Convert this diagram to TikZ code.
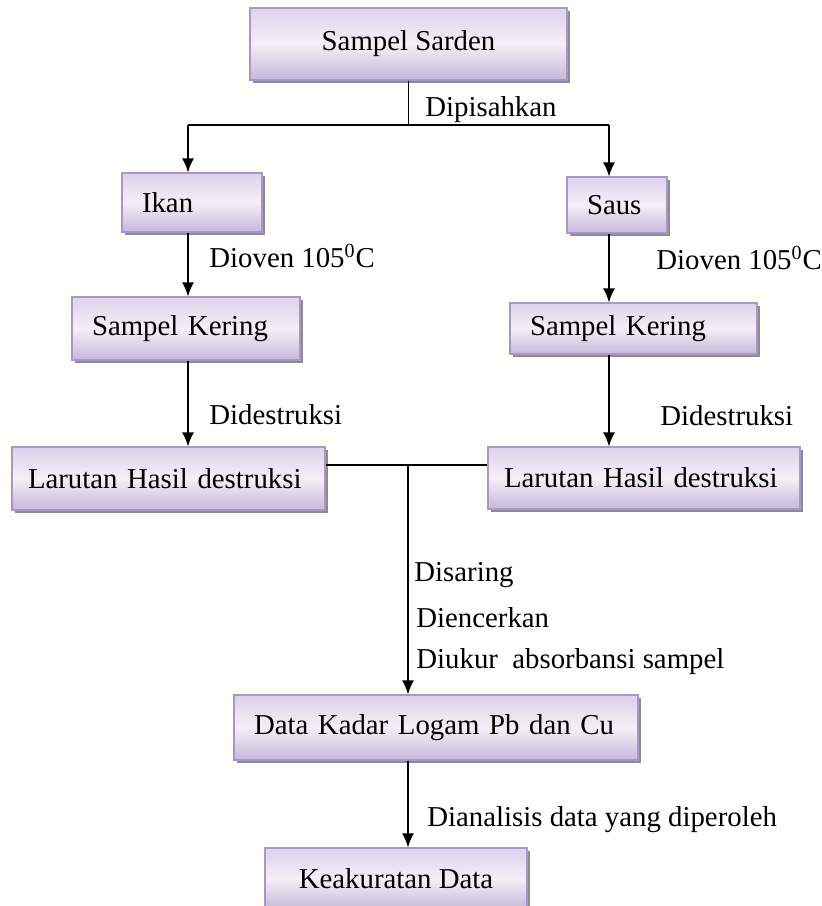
\documentclass[tikz,border=0pt]{standalone}
\usepackage{fontspec}
\setmainfont{Liberation Serif}
\usetikzlibrary{arrows.meta,shadows}

\definecolor{boxtop}{HTML}{DCD2EA}
\definecolor{boxmid}{HTML}{F4EFF7}
\definecolor{boxbot}{HTML}{C6B8DB}
\definecolor{boxline}{HTML}{A898C8}
\definecolor{paper}{HTML}{FEFEFA}

\tikzset{
  box/.style={draw=boxline, line width=0.6pt,
    top color=boxtop, bottom color=boxbot, middle color=boxmid,
    drop shadow={shadow xshift=1.5pt, shadow yshift=-1.5pt, fill=black!45, opacity=1},
    font=\fontsize{14.4}{16}\selectfont, inner xsep=10pt, inner ysep=0pt},
  arr/.style={-{Latex[length=7pt,width=6pt]}, line width=0.8pt},
  lin/.style={line width=0.8pt},
  lbl/.style={anchor=west, inner sep=0pt, font=\fontsize{14.4}{16}\selectfont}
}

\begin{document}
\begin{tikzpicture}[x=0.5pt,y=-0.5pt]
  % Page
  \fill[paper] (0,0) rectangle (822,906);
  \useasboundingbox (0,0) rectangle (822,906);

  % Boxes
  \node[box, minimum width=158.5pt, minimum height=36pt, align=center] (sarden) at (408.5,44) {Sampel Sarden};
  \node[box, text width=50pt, minimum height=29.5pt, align=left] (ikan) at (192,202.5) {Ikan};
  \node[box, text width=30pt, minimum height=28pt, align=left] (saus) at (617,205) {Saus};
  \node[box, text width=94pt, minimum height=31.5pt, align=left] (kering1) at (186,328.5) {Sampel Kering};
  \node[box, text width=103.5pt, minimum height=25.5pt, align=left] (kering2) at (633.5,328.5) {Sampel Kering};
  \node[box, inner xsep=8pt, text width=140.5pt, minimum height=31.5pt, align=left] (larutan1) at (168.5,478.5) {Larutan Hasil destruksi};
  \node[box, inner xsep=8pt, text width=140pt, minimum height=31pt, align=left] (larutan2) at (644,478) {Larutan Hasil destruksi};
  \node[box, text width=182pt, minimum height=32.5pt, align=left] (data) at (436,727.5) {Data Kadar Logam Pb dan Cu};
  \node[box, minimum width=131pt, minimum height=31pt, align=center] (akurat) at (396,879) {Keakuratan Data};

  % Branch points
  \coordinate (lft) at (188,125);
  \coordinate (rgt) at (609,125);
  \coordinate (join) at (408,465);

  % Split into fish and sauce
  \draw[lin] (sarden.south) -- (sarden.south |- lft);
  \draw[lin] (lft) -- (rgt);
  \draw[arr] (lft) -- (lft |- ikan.north);
  \draw[arr] (rgt) -- (rgt |- saus.north);
  \node[lbl] (pisah) at (425,110) {Dipisahkan};

  % Left column
  \draw[arr] (ikan.south -| lft) -- (kering1.north -| lft);
  \node[lbl] (oven1) at (209,256) {Dioven 105\textsuperscript{0}C};
  \draw[arr] (kering1.south -| lft) -- (larutan1.north -| lft);
  \node[lbl] (destr1) at (209,415) {Didestruksi};

  % Right column
  \draw[arr] (saus.south -| rgt) -- (kering2.north -| rgt);
  \node[lbl] (oven2) at (656,258) {Dioven 105\textsuperscript{0}C};
  \draw[arr] (kering2.south -| rgt) -- (larutan2.north -| rgt);
  \node[lbl] (destr2) at (660,416) {Didestruksi};

  % Join and measure
  \draw[lin] (larutan1.east |- join) -- (larutan2.west |- join);
  \draw[arr] (join) -- (join |- data.north);
  \node[lbl] (saring) at (414,575) {Disaring};
  \node[lbl] (encer) at (416,618) {Diencerkan};
  \node[lbl] (ukur) at (416,662) {Diukur\ \ absorbansi sampel};

  % Analysis
  \draw[arr] (data.south -| join) -- (akurat.north -| join);
  \node[lbl] (analisis) at (427,820) {Dianalisis data yang diperoleh};
\end{tikzpicture}
\end{document}
